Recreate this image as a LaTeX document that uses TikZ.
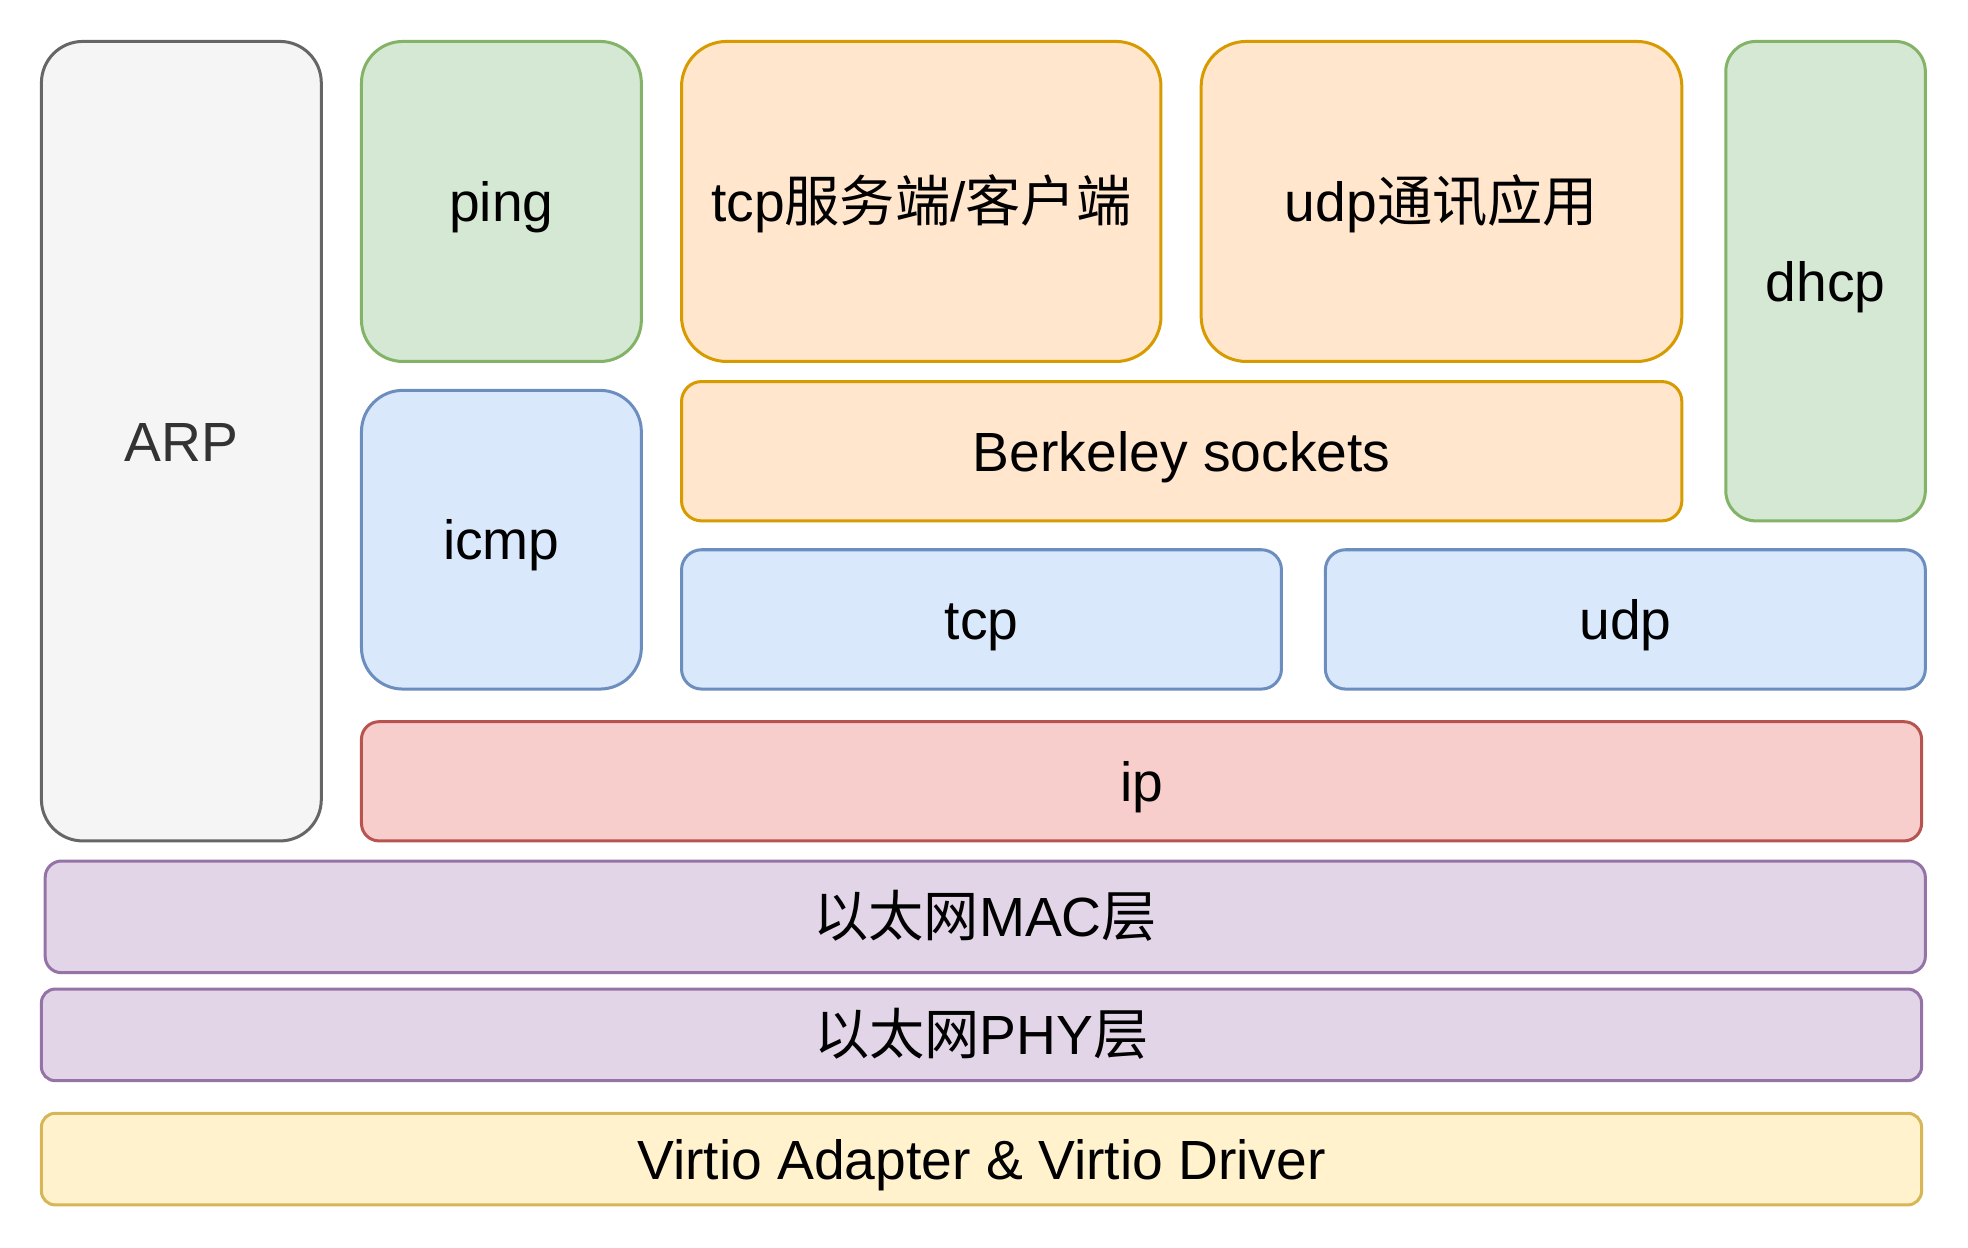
\documentclass[tikz,border=0pt]{standalone}
\usepackage{fontspec}
\setmainfont{Liberation Sans}
\newfontfamily\cjk{Noto Sans CJK SC}
\usepackage{xcolor}
\definecolor{grayfill}{HTML}{F5F5F5}\definecolor{grayline}{HTML}{666666}
\definecolor{greenfill}{HTML}{D5E8D4}\definecolor{greenline}{HTML}{82B366}
\definecolor{orangefill}{HTML}{FFE6CC}\definecolor{orangeline}{HTML}{D79B00}
\definecolor{bluefill}{HTML}{DAE8FC}\definecolor{blueline}{HTML}{6C8EBF}
\definecolor{redfill}{HTML}{F8CECC}\definecolor{redline}{HTML}{B85450}
\definecolor{purplefill}{HTML}{E1D5E7}\definecolor{purpleline}{HTML}{9673A6}
\definecolor{yellowfill}{HTML}{FFF2CC}\definecolor{yellowline}{HTML}{D6B656}

\tikzset{
  layer/.style={draw, line width=2.4pt, rounded corners=#1, inner sep=0pt,
    text height=41pt, text depth=9pt, font=\fontsize{44}{52}\selectfont},
  grayblk/.style={layer=#1, fill=grayfill, draw=grayline, text=black!80},
  greenblk/.style={layer=#1, fill=greenfill, draw=greenline},
  orangeblk/.style={layer=#1, fill=orangefill, draw=orangeline},
  blueblk/.style={layer=#1, fill=bluefill, draw=blueline},
  redblk/.style={layer=#1, fill=redfill, draw=redline},
  purpleblk/.style={layer=#1, fill=purplefill, draw=purpleline},
  yellowblk/.style={layer=#1, fill=yellowfill, draw=yellowline},
}

\begin{document}
\begin{tikzpicture}[x=1pt, y=-1pt]
\useasboundingbox (0,0) rectangle (1568,994);

% left column
\node[grayblk=33pt, minimum width=223pt, minimum height=637pt] (arp) at (144.5,351.5) {ARP};
\node[greenblk=33pt, minimum width=223pt, minimum height=255pt] (ping) at (399.5,160.5) {ping};
\node[blueblk=33pt, minimum width=223pt, minimum height=238pt] (icmp) at (399.5,430) {icmp};

% applications
\node[orangeblk=36pt, minimum width=382pt, minimum height=255pt] (tcpapp) at (734,160.5) {tcp{\cjk 服务端}/{\cjk 客户端}};
\node[orangeblk=36pt, minimum width=383pt, minimum height=255pt] (udpapp) at (1148.5,160.5) {udp{\cjk 通讯应用}};
\node[greenblk=24pt, minimum width=159pt, minimum height=382pt] (dhcp) at (1454.5,224) {dhcp};
\node[orangeblk=16pt, minimum width=797pt, minimum height=111pt] (sockets) at (941.5,359.5) {Berkeley sockets};

% transport
\node[blueblk=16pt, minimum width=478pt, minimum height=111pt] (tcp) at (782,493.5) {tcp};
\node[blueblk=16pt, minimum width=478pt, minimum height=111pt] (udp) at (1295,493.5) {udp};

% lower layers
\node[redblk=14pt, minimum width=1243pt, minimum height=95pt] (ip) at (909.5,622.5) {ip};
\node[purpleblk=13pt, minimum width=1498pt, minimum height=89pt] (mac) at (785,730.5) {{\cjk 以太网}MAC{\cjk 层}};
\node[purpleblk=11pt, minimum width=1498pt, minimum height=73pt] (phy) at (782,824.5) {{\cjk 以太网}PHY{\cjk 层}};
\node[yellowblk=11pt, minimum width=1498pt, minimum height=73pt] (virtio) at (782,923.5) {Virtio Adapter \& Virtio Driver};
\end{tikzpicture}
\end{document}
